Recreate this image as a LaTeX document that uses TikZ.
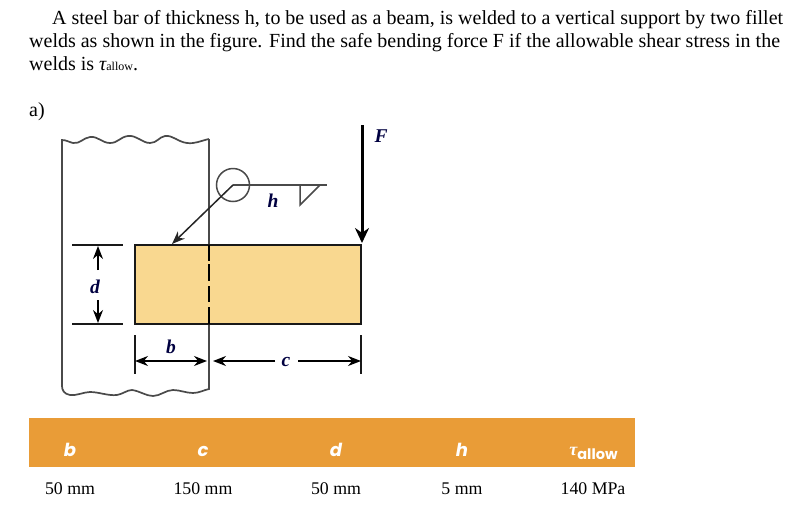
\documentclass[tikz,border=0pt]{standalone}
\usepackage{fontspec}
\setmainfont{Liberation Serif}
\setsansfont{Poppins}
\usetikzlibrary{arrows.meta}
\definecolor{barfill}{HTML}{F9D890}
\definecolor{bandfill}{HTML}{E99C37}
\definecolor{wallgray}{HTML}{4A4A4A}
\tikzset{
  x=1pt,y=-1pt,
  textline/.style={anchor=base west,inner sep=0pt,font=\fontsize{20}{23}\selectfont},
  lab/.style={inner sep=0pt,font=\fontsize{19.5}{20}\selectfont\itshape\bfseries,text=black!75!blue},
  head/.style={inner sep=0pt,anchor=base,text=white,font=\fontsize{18}{22}\sffamily\bfseries\itshape\selectfont},
  val/.style={inner sep=0pt,anchor=base,font=\fontsize{17.8}{20}\selectfont},
  wall/.style={draw=wallgray,line width=1.7pt},
  thin line/.style={draw=black!90,line width=1.6pt},
  dim/.style={draw=black,line width=1.5pt,{Stealth[length=13pt,width=10pt]}-{Stealth[length=13pt,width=10pt]}},
  onetip/.style={draw=black,line width=1.5pt,-{Stealth[length=13pt,width=10pt]}}
}
\begin{document}
\begin{tikzpicture}
\useasboundingbox (0,0) rectangle (812,528);
\node[textline] (t1) at (52,24) {A steel bar of thickness h, to be used as a beam, is welded to a vertical support by two fillet};
\node[textline] (t2) at (29,47) {welds as shown in the figure. Find the safe bending force F if the allowable shear stress in the};
\node[textline] (t3) at (29,70) {welds is {\itshape τ}{\fontsize{12}{14}\selectfont allow}.};
\node[textline] (a) at (29,116) {a)};
% wall
\draw[wall] (209,139) .. controls (200,141) and (195,144) .. (187,143) .. controls (178,142) and (173,135) .. (165,136) .. controls (159,137) and (157,143) .. (150,143) .. controls (142,143) and (137,135) .. (128,136) .. controls (120,137) and (118,143) .. (110,143) .. controls (102,143) and (98,136) .. (90,137) .. controls (83,138) and (80,144) .. (73,143) .. controls (69,142) and (66,140) .. (62,140) -- (62,386) .. controls (62,390) and (64,394) .. (70,395) .. controls (76,396) and (84,392) .. (90,392) .. controls (99,392) and (108,396) .. (117,395) .. controls (123,394) and (127,390) .. (132,390) .. controls (140,391) and (146,396) .. (153,396) .. controls (160,396) and (166,390) .. (173,390) .. controls (180,390) and (186,393) .. (193,393) .. controls (199,393) and (204,390) .. (209,389) -- (209,324) (209,245) -- (209,139);
\fill[barfill] (135,245) rectangle (361,324);
\draw[thin line] (135,245) rectangle (361,324);
\draw[draw=black,line width=1.6pt] (209,245) -- (209,261) (209,264) -- (209,281) (209,286) -- (209,302) (209,307) -- (209,324);
% weld symbol
\node[circle,draw=wallgray,line width=1.5pt,minimum size=33pt,inner sep=0pt] (sym) at (233,185) {};
\coordinate (c0) at (233,185);
\coordinate (c1) at (327,185);
\coordinate (tip) at (172,244);
\draw[draw=wallgray,line width=1.5pt] (c0) -- (c1);
\draw[onetip,draw=black!85] (c0) -- (tip);
\draw[draw=wallgray,line width=1.5pt] (300,185) -- (300,205) -- (320,185);
\node[lab] (h) at (273,201) {h};
% force
\coordinate (f0) at (362,125);
\coordinate (f1) at (362,243);
\draw[draw=black,line width=3pt,-{Stealth[length=15pt,width=14pt]}] (f0) -- (f1);
\node[lab] (F) at (381,136) {F};
% d dim
\coordinate (dt) at (98,246);
\coordinate (db) at (98,323);
\coordinate (dm1) at (98,270);
\coordinate (dm2) at (98,300);
\draw[thin line] (72,245) -- (123,245) (72,324) -- (123,324);
\draw[onetip] (dm1) -- (dt);
\draw[onetip] (dm2) -- (db);
\node[lab] (d) at (95,287) {d};
% b c dims
\draw[thin line] (135,335) -- (135,374) (361,335) -- (361,374);
\coordinate (bl) at (135,361);
\coordinate (br) at (207,361);
\coordinate (cl) at (213,361);
\coordinate (cr) at (361,361);
\coordinate (cm1) at (275,361);
\coordinate (cm2) at (298,361);
\draw[dim] (bl) -- (br);
\draw[onetip] (cm1) -- (cl);
\draw[onetip] (cm2) -- (cr);
\node[lab] (b) at (171,347) {b};
\node[lab] (c) at (286,362) {c};
% band
\fill[bandfill] (29,418) rectangle (635,467);
\node[head] (hb) at (70,456) {b};
\node[head] (hc) at (203,456) {c};
\node[head] (hd) at (336,456) {d};
\node[head] (hh) at (462,456) {h};
\node[head,font=\fontsize{14.5}{18}\sffamily\bfseries\selectfont] (ht) at (593.5,459.5) {\raisebox{4pt}{\fontsize{18}{18}\rmfamily\itshape τ}allow};
\node[val] (v1) at (70,494) {50 mm};
\node[val] (v2) at (203,494) {150 mm};
\node[val] (v3) at (336,494) {50 mm};
\node[val] (v4) at (462,494) {5 mm};
\node[val] (v5) at (593,494) {140 MPa};
\end{tikzpicture}
\end{document}
